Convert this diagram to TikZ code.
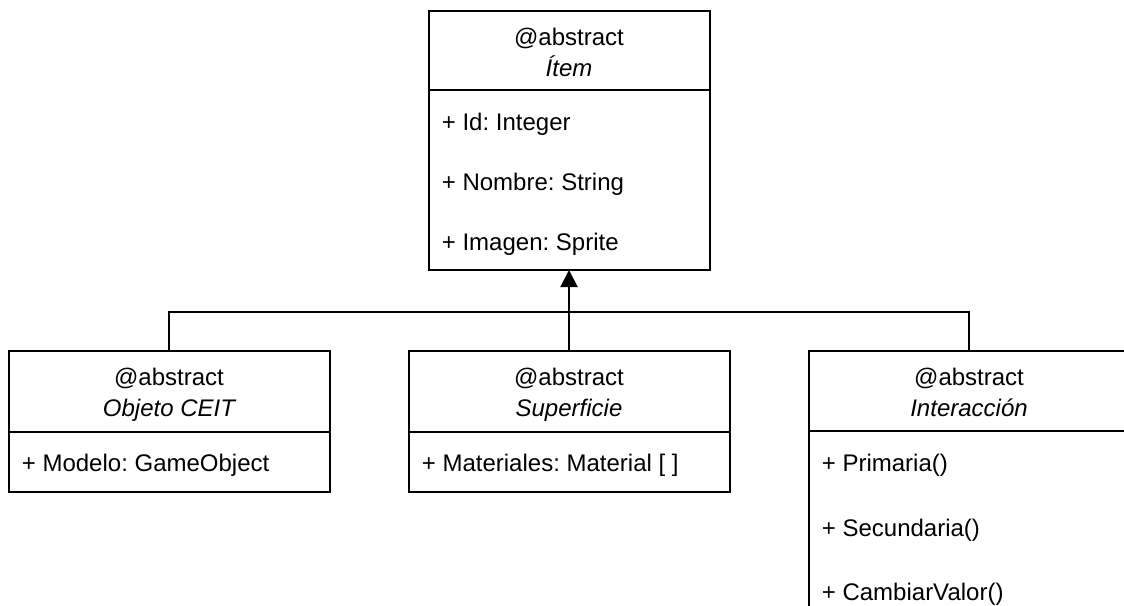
\documentclass[tikz,border=0pt]{standalone}
\usepackage{fontspec}
\setmainfont{Liberation Sans}
\usetikzlibrary{arrows.meta}
\frenchspacing
\begin{document}
\begin{tikzpicture}[x=0.5pt,y=-0.5pt,
  box/.style={draw=black,line width=1pt,inner sep=0pt,outer sep=0pt,fill=white},
  txt/.style={inner sep=0pt,anchor=base,font=\fontsize{12}{14}\selectfont,text=black},
  attr/.style={inner sep=0pt,anchor=base west,font=\fontsize{12}{14}\selectfont,text=black},
  conn/.style={draw=black,line width=1pt}]
\useasboundingbox (0,0) rectangle (1124,605);
\clip (0,0) rectangle (1124,605);
\fill[white] (0,0) rectangle (1124,605);
% Item
\node[box,minimum width=140.5pt,minimum height=39.5pt] (itemh) at (569,50.5) {};
\node[box,minimum width=140.5pt,minimum height=90pt] (itemb) at (569,180) {};
\node[txt] (itemt1) at (569,45) {@abstract};
\node[txt] (itemt2) at (569,76) {\itshape Ítem};
\node[attr] (itema1) at (441.5,130.5) {+ Id: Integer};
\node[attr] (itema2) at (441.5,190.5) {+ Nombre: String};
\node[attr] (itema3) at (441.5,250.5) {+ Imagen: Sprite};
% Objeto CEIT
\node[box,minimum width=160.5pt,minimum height=40.5pt] (objh) at (169,391.5) {};
\node[box,minimum width=160.5pt,minimum height=30pt] (objb) at (169,462) {};
\node[txt] (objt1) at (169,385.5) {@abstract};
\node[txt] (objt2) at (169,416) {\itshape Objeto CEIT};
\node[attr] (obja1) at (21.5,471.5) {+ Modelo: GameObject};
% Superficie
\node[box,minimum width=160.5pt,minimum height=40.5pt] (suph) at (569,391.5) {};
\node[box,minimum width=160.5pt,minimum height=30pt] (supb) at (569,462) {};
\node[txt] (supt1) at (569,385.5) {@abstract};
\node[txt] (supt2) at (569,416) {\itshape Superficie};
\node[attr] (supa1) at (421.5,471.5) {+ Materiales: Material [ ]};
% Interaccion
\node[box,minimum width=160.5pt,minimum height=40pt] (inth) at (969,391) {};
\node[box,minimum width=160.5pt,minimum height=100pt] (intb) at (969,531) {};
\node[txt] (intt1) at (969,385.5) {@abstract};
\node[txt] (intt2) at (969,416) {\itshape Interacción};
\node[attr] (inta1) at (821.5,471.5) {+ Primaria()};
\node[attr] (inta2) at (821.5,536.5) {+ Secundaria()};
\node[attr] (inta3) at (821.5,600.5) {+ CambiarValor()};
% connectors
\coordinate (j) at (569,312);
\draw[conn] (objh.north) |- (j) -| (inth.north);
\draw[conn,-{Triangle[width=8.5pt,length=8.5pt]}] (suph.north) -- (itemb.south);
\end{tikzpicture}
\end{document}
